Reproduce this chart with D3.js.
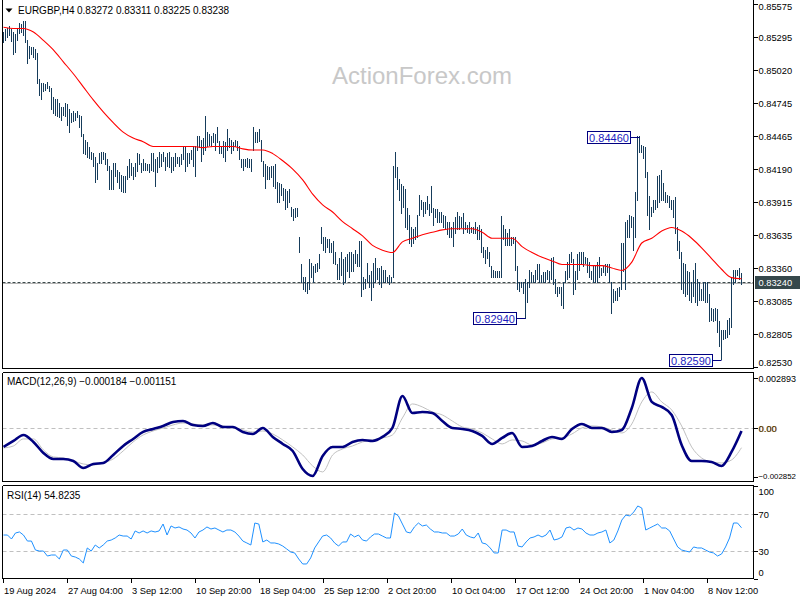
<!DOCTYPE html>
<html><head><meta charset="utf-8">
<script src="https://cdn.jsdelivr.net/npm/d3@7/dist/d3.min.js"></script>
<style>
html,body{margin:0;padding:0;background:#fff;}
svg{display:block;}
text{font-family:"Liberation Sans",Arial,sans-serif;}
</style>
</head><body>
<svg id="c" width="800" height="600"></svg>
<script>
// ---------------- DATA ----------------
const symbolTitle = "EURGBP,H4";
const lastOHLC = [0.83272, 0.83311, 0.83225, 0.83238];
const currentPrice = 0.83240;

const highs = [
0.8534,0.8536,0.8537,0.8539,0.8536,0.8534,0.8532,0.8537,0.8541,0.8540,
0.8543,0.8543,0.8527,0.8522,0.8521,0.8521,0.8519,0.8516,0.8494,0.8491,
0.8491,0.8490,0.8492,0.8488,0.8487,0.8479,0.8477,0.8477,0.8474,0.8471,
0.8471,0.8474,0.8473,0.8469,0.8466,0.8467,0.8466,0.8467,0.8464,0.8463,
0.8448,0.8443,0.8441,0.8437,0.8433,0.8432,0.8429,0.8424,0.8432,0.8433,
0.8433,0.8432,0.8427,0.8421,0.8418,0.8424,0.8424,0.8418,0.8416,0.8414,
0.8413,0.8413,0.8421,0.8427,0.8424,0.8420,0.8424,0.8432,0.8431,0.8424,
0.8427,0.8424,0.8423,0.8423,0.8432,0.8432,0.8427,0.8429,0.8433,0.8431,
0.8433,0.8429,0.8432,0.8433,0.8429,0.8429,0.8432,0.8429,0.8429,0.8431,
0.8437,0.8437,0.8432,0.8432,0.8435,0.8438,0.8438,0.8446,0.8446,
0.8443,0.8445,0.8463,0.8450,0.8448,0.8446,0.8449,0.8448,0.8454,0.8442,
0.8438,0.8442,0.8441,0.8452,0.8445,0.8443,0.8441,0.8443,0.8442,0.8438,
0.8427,0.8427,0.8427,0.8428,0.8427,0.8427,0.8454,0.8450,0.8450,0.8452,
0.8443,0.8425,0.8423,0.8421,0.8420,0.8421,0.8421,0.8423,0.8408,0.8407,
0.8406,0.8403,0.8402,0.8400,0.8402,0.8387,0.8385,0.8386,0.8386,0.8362,
0.8339,0.8328,0.8328,0.8324,0.8343,0.8340,0.8337,0.8339,0.8340,0.8347,
0.8370,0.8362,0.8362,0.8360,0.8360,0.8357,0.8358,0.8349,0.8339,0.8344,
0.8349,0.8343,0.8345,0.8347,0.8349,0.8349,0.8347,0.8351,0.8347,0.8358,
0.8358,0.8328,0.8326,0.8340,0.8330,0.8333,0.8340,0.8344,0.8336,0.8336,
0.8337,0.8334,0.8334,0.8328,0.8330,0.8328,0.8421,0.8433,0.8420,0.8410,
0.8406,0.8404,0.8402,0.8386,0.8380,0.8370,0.8368,0.8370,0.8380,0.8397,
0.8393,0.8391,0.8391,0.8396,0.8389,0.8404,0.8386,0.8385,0.8385,0.8383,
0.8383,0.8380,0.8379,0.8374,0.8374,0.8370,0.8374,0.8378,0.8383,0.8379,
0.8378,0.8382,0.8374,0.8372,0.8374,0.8370,0.8370,0.8374,0.8370,0.8372,
0.8368,0.8353,0.8351,0.8353,0.8349,0.8337,0.8334,0.8333,0.8333,0.8333,
0.8379,0.8372,0.8368,0.8365,0.8368,0.8362,0.8362,0.8362,0.8337,0.8324,
0.8324,0.8324,0.8326,0.8324,0.8334,0.8332,0.8330,0.8334,0.8339,0.8339,
0.8330,0.8332,0.8332,0.8334,0.8333,0.8344,0.8345,0.8326,0.8320,0.8320,
0.8320,0.8324,0.8333,0.8341,0.8347,0.8349,0.8343,0.8333,0.8347,0.8349,
0.8349,0.8349,0.8345,0.8344,0.8341,0.8333,0.8337,0.8337,0.8341,0.8345,
0.8336,0.8337,0.8339,0.8339,0.8339,0.8324,0.8318,0.8316,0.8319,0.8320,
0.8357,0.8357,0.8374,0.8376,0.8380,0.8379,0.8378,0.8399,0.8446,0.8446,
0.8439,0.8438,0.8437,0.8416,0.8396,0.8387,0.8393,0.8393,0.8413,0.8414,
0.8418,0.8407,0.8399,0.8397,0.8396,0.8393,0.8393,0.8395,0.8370,0.8358,
0.8349,0.8340,0.8339,0.8333,0.8332,0.8324,0.8334,0.8340,0.8326,0.8324,
0.8318,0.8324,0.8324,0.8324,0.8314,0.8302,0.8301,0.8302,0.8301,0.8291,
0.8284,0.8284,0.8284,0.8292,0.8294,0.8328,0.8334,0.8334,0.8334,0.8336,
0.83311];

const lows = [
0.8525,0.8527,0.8529,0.8531,0.8526,0.8515,0.8517,0.8527,0.8533,0.8534,
0.8531,0.8525,0.8508,0.8512,0.8515,0.8513,0.8511,0.8491,0.8481,0.8477,
0.8484,0.8485,0.8487,0.8484,0.8469,0.8466,0.8464,0.8463,0.8462,0.8460,
0.8464,0.8463,0.8456,0.8450,0.8458,0.8459,0.8460,0.8462,0.8454,0.8446,
0.8432,0.8431,0.8429,0.8428,0.8427,0.8421,0.8408,0.8410,0.8424,0.8424,
0.8427,0.8423,0.8418,0.8402,0.8402,0.8402,0.8413,0.8408,0.8403,0.8400,
0.8399,0.8399,0.8410,0.8412,0.8414,0.8410,0.8413,0.8417,0.8423,0.8416,
0.8418,0.8418,0.8418,0.8416,0.8418,0.8417,0.8404,0.8416,0.8420,0.8421,
0.8425,0.8418,0.8421,0.8420,0.8416,0.8418,0.8421,0.8424,0.8421,0.8423,
0.8427,0.8417,0.8421,0.8424,0.8427,0.8421,0.8413,0.8435,0.8437,
0.8425,0.8431,0.8435,0.8438,0.8439,0.8438,0.8441,0.8435,0.8441,0.8432,
0.8432,0.8429,0.8425,0.8435,0.8437,0.8432,0.8435,0.8438,0.8435,0.8427,
0.8420,0.8418,0.8421,0.8420,0.8420,0.8417,0.8435,0.8441,0.8441,0.8442,
0.8425,0.8413,0.8403,0.8410,0.8410,0.8412,0.8404,0.8403,0.8391,0.8391,
0.8397,0.8393,0.8385,0.8387,0.8391,0.8379,0.8376,0.8378,0.8379,0.8349,
0.8324,0.8318,0.8316,0.8315,0.8318,0.8328,0.8324,0.8332,0.8333,0.8336,
0.8357,0.8351,0.8349,0.8353,0.8349,0.8349,0.8340,0.8339,0.8326,0.8326,
0.8330,0.8322,0.8324,0.8333,0.8328,0.8333,0.8333,0.8340,0.8337,0.8337,
0.8312,0.8318,0.8319,0.8324,0.8320,0.8309,0.8320,0.8324,0.8326,0.8322,
0.8320,0.8324,0.8324,0.8324,0.8322,0.8324,0.8328,0.8412,0.8402,0.8393,
0.8382,0.8387,0.8370,0.8368,0.8357,0.8354,0.8357,0.8360,0.8362,0.8380,
0.8385,0.8379,0.8382,0.8385,0.8380,0.8383,0.8372,0.8378,0.8374,0.8374,
0.8374,0.8370,0.8368,0.8364,0.8362,0.8362,0.8354,0.8365,0.8368,0.8368,
0.8370,0.8365,0.8368,0.8366,0.8365,0.8366,0.8365,0.8365,0.8360,0.8360,
0.8349,0.8345,0.8340,0.8344,0.8337,0.8328,0.8328,0.8328,0.8328,0.8328,
0.8328,0.8360,0.8355,0.8355,0.8355,0.8355,0.8357,0.8334,0.8318,0.8316,
0.8320,0.8315,0.8294,0.8307,0.8320,0.8324,0.8324,0.8324,0.8326,0.8324,
0.8324,0.8324,0.8324,0.8326,0.8324,0.8326,0.8322,0.8315,0.8312,0.8315,
0.8305,0.8302,0.8324,0.8326,0.8328,0.8341,0.8314,0.8318,0.8326,0.8334,
0.8340,0.8337,0.8340,0.8332,0.8328,0.8326,0.8324,0.8324,0.8324,0.8328,
0.8330,0.8332,0.8330,0.8332,0.8324,0.8298,0.8307,0.8309,0.8309,0.8312,
0.8318,0.8333,0.8318,0.8362,0.8362,0.8370,0.8351,0.8362,0.8393,0.8433,
0.8433,0.8428,0.8412,0.8380,0.8368,0.8379,0.8383,0.8385,0.8387,0.8391,
0.8393,0.8393,0.8391,0.8391,0.8387,0.8385,0.8378,0.8365,0.8351,0.8344,
0.8318,0.8315,0.8312,0.8314,0.8309,0.8307,0.8312,0.8307,0.8305,0.8309,
0.8309,0.8309,0.8307,0.8307,0.8291,0.8292,0.8291,0.8292,0.8282,0.8270,
0.8259,0.8276,0.8277,0.8278,0.8280,0.8286,0.8322,0.8324,0.8330,0.8326,
0.83225];

// moving average, sampled evenly across the bars
const maValues = [
0.8538,0.8537,0.8537,0.8534,0.8527,0.8519,0.8509,0.8499,0.8488,0.8477,
0.8467,0.8458,0.8450,0.8445,0.8442,0.8438,0.8438,0.8438,0.8438,0.8438,
0.8437,0.8438,0.8438,0.8438,0.8436,0.8435,0.8435,0.8432,0.8426,0.8419,
0.8410,0.8398,0.8389,0.8383,0.8375,0.8369,0.8363,0.8355,0.8351,0.8349,
0.8358,0.8361,0.8364,0.8366,0.8368,0.8369,0.8369,0.8369,0.8366,0.8361,
0.8361,0.8361,0.8354,0.8349,0.8345,0.8342,0.8339,0.8339,0.8339,0.8338,
0.8338,0.8336,0.8334,0.8341,0.8357,0.8361,0.8367,0.8370,0.8367,0.8361,
0.8353,0.8344,0.8335,0.8328,0.8327];

const macdMain = [
-0.001108,-0.000760,-0.000412,-0.000818,-0.001457,-0.001805,-0.001805,-0.001921,-0.002327,-0.002095,
-0.002037,-0.001573,-0.001050,-0.000644,-0.000238,-0.000064,0.000110,0.000342,0.000400,0.000168,
0.000110,0.000284,0.000052,0.000052,-0.000238,-0.000354,-0.000006,-0.000528,-0.000934,-0.001340,
-0.002385,-0.002791,-0.001631,-0.001108,-0.001108,-0.000818,-0.000702,-0.000760,-0.000528,-0.000006,
0.001851,0.000865,0.000923,0.000865,0.000400,-0.000006,-0.000064,-0.000180,-0.000470,-0.000934,
-0.000586,-0.000296,-0.001108,-0.001050,-0.000760,-0.000528,-0.000644,-0.000064,0.000226,-0.000006,
-0.000006,-0.000238,-0.000122,0.001155,0.002893,0.001503,0.001213,0.000749,-0.000992,-0.001921,
-0.001921,-0.001979,-0.002211,-0.001399,-0.000184];

const macdSignal = [
-0.001166,-0.001050,-0.000644,-0.000644,-0.001282,-0.001689,-0.001747,-0.001921,-0.002095,-0.002153,
-0.002037,-0.001805,-0.001340,-0.000818,-0.000412,-0.000180,-0.000006,0.000168,0.000284,0.000226,
0.000168,0.000168,0.000110,-0.000006,-0.000122,-0.000238,-0.000180,-0.000354,-0.000702,-0.001108,
-0.001573,-0.002211,-0.002559,-0.001573,-0.001224,-0.001050,-0.000818,-0.000702,-0.000586,-0.000412,
0.000574,0.001387,0.001213,0.000923,0.000749,0.000400,0.000052,-0.000064,-0.000296,-0.000644,
-0.000934,-0.000702,-0.000760,-0.000992,-0.000876,-0.000644,-0.000586,-0.000354,-0.000006,0.000110,
0.000052,-0.000122,-0.000296,0.000226,0.001503,0.002083,0.001503,0.001039,0.000110,-0.001108,
-0.001747,-0.001979,-0.002037,-0.001863,-0.001151];

const rsiValues = [
47.0,47.0,42.7,49.2,50.3,47.0,40.5,40.5,30.8,29.7,
29.7,24.3,25.4,25.4,21.1,30.8,30.8,24.3,23.2,21.1,
16.8,33.0,29.7,36.2,33.0,36.2,40.5,41.6,43.8,47.0,
45.9,45.9,42.7,51.4,49.2,51.4,49.2,51.4,50.3,51.4,
58.9,47.0,56.8,54.6,55.7,53.5,52.4,49.2,43.8,50.3,
52.4,55.7,53.5,54.6,52.4,50.3,52.4,52.4,50.3,45.9,
40.5,38.4,36.2,60.0,58.9,39.5,41.6,38.4,38.4,37.3,
35.1,31.9,28.6,27.6,21.1,15.7,15.7,22.2,33.0,39.5,
45.9,47.0,43.8,38.4,35.1,39.5,39.5,48.1,44.9,47.0,
41.6,40.5,44.9,48.1,48.1,45.9,43.8,43.8,70.8,67.6,
58.9,50.3,49.2,55.7,60.0,56.8,57.8,53.5,50.3,50.3,
49.2,49.2,45.9,45.9,48.1,53.5,47.0,44.9,43.8,49.2,
38.4,37.3,33.0,27.6,27.6,52.4,52.4,50.3,50.3,35.1,
34.1,39.5,43.8,44.9,47.0,44.9,47.0,52.4,41.6,42.7,
44.9,54.6,55.7,52.4,54.6,53.5,49.2,47.0,47.0,49.2,
50.3,52.4,38.4,41.6,51.4,63.2,68.6,67.6,71.9,78.4,
76.2,52.4,54.6,56.8,58.9,54.6,54.6,51.4,42.7,34.1,
30.8,29.7,28.6,34.1,33.0,33.0,30.8,28.6,27.6,24.3,
26.5,34.1,43.8,60.0,60.0,54.8235];

const priceTicks = [0.85575,0.85295,0.85020,0.84745,0.84465,0.84190,0.83915,0.83635,0.83360,0.83085,0.82805,0.82530];
const macdTicks = [0.002893, 0, -0.002852];
const rsiTicks = [100, 70, 30, 0];
const rsiLevels = [70, 30];
const timeLabels = ["19 Aug 2024","27 Aug 04:00","3 Sep 12:00","10 Sep 20:00","18 Sep 04:00","25 Sep 12:00","2 Oct 20:00","10 Oct 04:00","17 Oct 12:00","24 Oct 20:00","1 Nov 04:00","8 Nov 12:00"];
const timeLabelBars = [0,32,64,96,128,160,192,224,256,288,320,352];
const annotBars = [318, 261, 359];
const annotPrices = [0.84460, 0.82940, 0.82590];
const macdName = "MACD(12,26,9)";
const macdLast = [-0.000184, -0.001151];
const rsiName = "RSI(14)";
const rsiLast = 54.8235;
const watermark = "ActionForex.com";

// ---------------- CHART ----------------
const N = highs.length;
const svg = d3.select("#c");
const L = 2.5, R = 753.5;
const mainP = [0, 368.5], macdP = [372.5, 481.5], rsiP = [485.5, 578.5];
const AX_FONT = 9.3;
const LABEL_X = 758.5, MAX_RIGHT = 796;

const x = d3.scaleLinear().domain([0, N - 1]).range([3.5, 3.5 + 2 * (N - 1)]);
const y = d3.scaleLinear().domain([0.82530, 0.85575]).range([367, 4]);
const ym = d3.scaleLinear().domain([-0.002852, 0.002893]).range([477, 378]);
const yr = d3.scaleLinear().domain([0, 100]).range([578.5, 486]);
const sx = arr => (d, j) => x(j * (N - 1) / (arr.length - 1));

// keep a right-axis label inside the picture by shrinking its font if needed
const fitRight = sel => {
  const w = sel.node().getComputedTextLength();
  const avail = MAX_RIGHT - (+sel.attr("x"));
  if (w > avail) sel.attr("font-size", (AX_FONT * avail / w).toFixed(2));
  return sel;
};

const defs = svg.append("defs");
[["cm", mainP], ["cd", macdP], ["cr", rsiP]].forEach(([id, p]) => {
  defs.append("clipPath").attr("id", id).append("rect")
    .attr("x", L + 0.5).attr("y", p[0]).attr("width", R - L - 1).attr("height", p[1] - p[0]);
});

// watermark
svg.append("text").attr("x", 422).attr("y", 84).attr("text-anchor", "middle")
  .attr("font-size", 24).attr("fill", "#c8c8c8").text(watermark);

// current price lines
const cpY = Math.round(y(currentPrice)) + 0.5;
svg.append("line").attr("x1", L).attr("x2", R).attr("y1", cpY + 1).attr("y2", cpY + 1)
  .attr("stroke", "#b4b4b4").attr("stroke-width", 1);
svg.append("line").attr("x1", L).attr("x2", R).attr("y1", cpY).attr("y2", cpY)
  .attr("stroke", "#3c4a4c").attr("stroke-width", 1).attr("stroke-dasharray", "3,2");

// bars
const gMain = svg.append("g").attr("clip-path", "url(#cm)");
gMain.selectAll("line.bar").data(highs).join("line").attr("class", "bar")
  .attr("x1", (d, i) => x(i)).attr("x2", (d, i) => x(i))
  .attr("y1", d => y(d) - 0.5).attr("y2", (d, i) => y(lows[i]) + 0.5)
  .attr("stroke", "#163c5b").attr("stroke-width", 1).attr("shape-rendering", "crispEdges");

// MA
gMain.append("path").datum(maValues)
  .attr("d", d3.line().x(sx(maValues)).y(d => y(d)).curve(d3.curveMonotoneX))
  .attr("fill", "none").attr("stroke", "#ff0000").attr("stroke-width", 1.1);

// annotations
const fmt5 = d3.format(".5f");
annotBars.forEach((b, k) => {
  const py = Math.round(y(annotPrices[k])) + 0.5;
  const bx = x(b);
  const w = 43, h = 12, rx = bx - 10 - w;
  svg.append("line").attr("x1", rx + w).attr("x2", bx).attr("y1", py).attr("y2", py)
    .attr("stroke", "#000080").attr("stroke-width", 1);
  svg.append("rect").attr("x", Math.round(rx) + 0.5).attr("y", py - 6).attr("width", w).attr("height", h)
    .attr("fill", "#fff").attr("stroke", "#000080").attr("stroke-width", 1);
  svg.append("text").attr("x", Math.round(rx) + 0.5 + w / 2).attr("y", py + 4.5)
    .attr("text-anchor", "middle").attr("font-size", 11).attr("fill", "#1c1cc0").text(fmt5(annotPrices[k]));
});

// MACD panel
svg.append("line").attr("x1", L).attr("x2", R).attr("y1", Math.round(ym(0)) + 0.5).attr("y2", Math.round(ym(0)) + 0.5)
  .attr("stroke", "#c0c0c0").attr("stroke-dasharray", "4,3");
const gMacd = svg.append("g").attr("clip-path", "url(#cd)");
gMacd.append("path").datum(macdSignal)
  .attr("d", d3.line().x(sx(macdSignal)).y(d => ym(d)).curve(d3.curveMonotoneX))
  .attr("fill", "none").attr("stroke", "#c0c0c0").attr("stroke-width", 1);
gMacd.append("path").datum(macdMain)
  .attr("d", d3.line().x(sx(macdMain)).y(d => ym(d)).curve(d3.curveMonotoneX))
  .attr("fill", "none").attr("stroke", "#000080").attr("stroke-width", 2.6);

// RSI panel
rsiLevels.forEach(v => {
  const ly = Math.round(yr(v)) + 0.5;
  svg.append("line").attr("x1", L).attr("x2", R).attr("y1", ly).attr("y2", ly)
    .attr("stroke", "#c0c0c0").attr("stroke-dasharray", "4,3");
});
const gRsi = svg.append("g").attr("clip-path", "url(#cr)");
gRsi.append("path").datum(rsiValues)
  .attr("d", d3.line().x(sx(rsiValues)).y(d => yr(d)))
  .attr("fill", "none").attr("stroke", "#1e90ff").attr("stroke-width", 1);

// frames
const frame = (p, top) => {
  const g = svg.append("g").attr("stroke", "#000").attr("stroke-width", 1).attr("fill", "none").attr("shape-rendering", "crispEdges");
  g.append("line").attr("x1", L).attr("x2", L).attr("y1", p[0]).attr("y2", p[1]);
  g.append("line").attr("x1", R).attr("x2", R).attr("y1", p[0]).attr("y2", p[1]);
  g.append("line").attr("x1", L).attr("x2", R).attr("y1", p[1]).attr("y2", p[1]);
  if (top) g.append("line").attr("x1", L).attr("x2", R).attr("y1", p[0]).attr("y2", p[0]);
};
frame(mainP, false); frame(macdP, true); frame(rsiP, true);

// right axes
const axisLabels = (ticks, scale, p, fmt) => {
  ticks.forEach(v => {
    const ty = Math.round(scale(v)) + 0.5;
    svg.append("line").attr("x1", R).attr("x2", R + 4).attr("y1", ty).attr("y2", ty)
      .attr("stroke", "#000").attr("shape-rendering", "crispEdges");
    const cy = Math.max(p[0] + 6.5, Math.min(p[1] - 5.5, ty));
    fitRight(svg.append("text").attr("x", LABEL_X).attr("y", cy + 3.4)
      .attr("font-size", AX_FONT).attr("fill", "#000").text(fmt(v)));
  });
};
axisLabels(priceTicks, y, [0, 368.5], d3.format(".5f"));
axisLabels(macdTicks, ym, macdP, v => v === 0 ? "0.00" : d3.format(".6f")(v));
axisLabels(rsiTicks, yr, rsiP, d3.format("d"));
// emphasise MACD zero label (drawn twice like the terminal)
svg.append("text").attr("x", LABEL_X + 0.7).attr("y", Math.round(ym(0)) + 0.5 + 3.4)
  .attr("font-size", AX_FONT).attr("fill", "#b07000").attr("opacity", 0.6).text("0.00");

// current price tag
svg.append("rect").attr("x", 755).attr("y", cpY - 6.5).attr("width", 45).attr("height", 13)
  .attr("fill", "#36484b");
svg.append("text").attr("x", LABEL_X).attr("y", cpY + 3.6).attr("font-size", AX_FONT).attr("fill", "#fff")
  .text(d3.format(".5f")(currentPrice));

// time axis
timeLabelBars.forEach((b, k) => {
  const tx = Math.round(x(b)) - 0.5;
  svg.append("line").attr("x1", tx).attr("x2", tx).attr("y1", rsiP[1]).attr("y2", rsiP[1] + 4)
    .attr("stroke", "#000").attr("shape-rendering", "crispEdges");
  svg.append("text").attr("x", tx + 0.5).attr("y", 594).attr("font-size", AX_FONT).attr("fill", "#000")
    .text(timeLabels[k]);
});

// titles
svg.append("path").attr("d", "M5.5,8.5 L12.5,8.5 L9,12.5 Z").attr("fill", "#000");
svg.append("text").attr("x", 18).attr("y", 14).attr("font-size", 10).attr("fill", "#000").text(symbolTitle);
svg.append("text").attr("x", 77).attr("y", 14).attr("font-size", 10).attr("fill", "#000")
  .text(lastOHLC.map(d3.format(".5f")).join(" "));
svg.append("text").attr("x", 7).attr("y", 385).attr("font-size", 10).attr("fill", "#000")
  .text(macdName + " " + macdLast.map(d3.format(".6f")).join(" "));
svg.append("text").attr("x", 7).attr("y", 499).attr("font-size", 10).attr("fill", "#000")
  .text(rsiName + " " + d3.format(".4f")(rsiLast));
</script>
</body></html>
